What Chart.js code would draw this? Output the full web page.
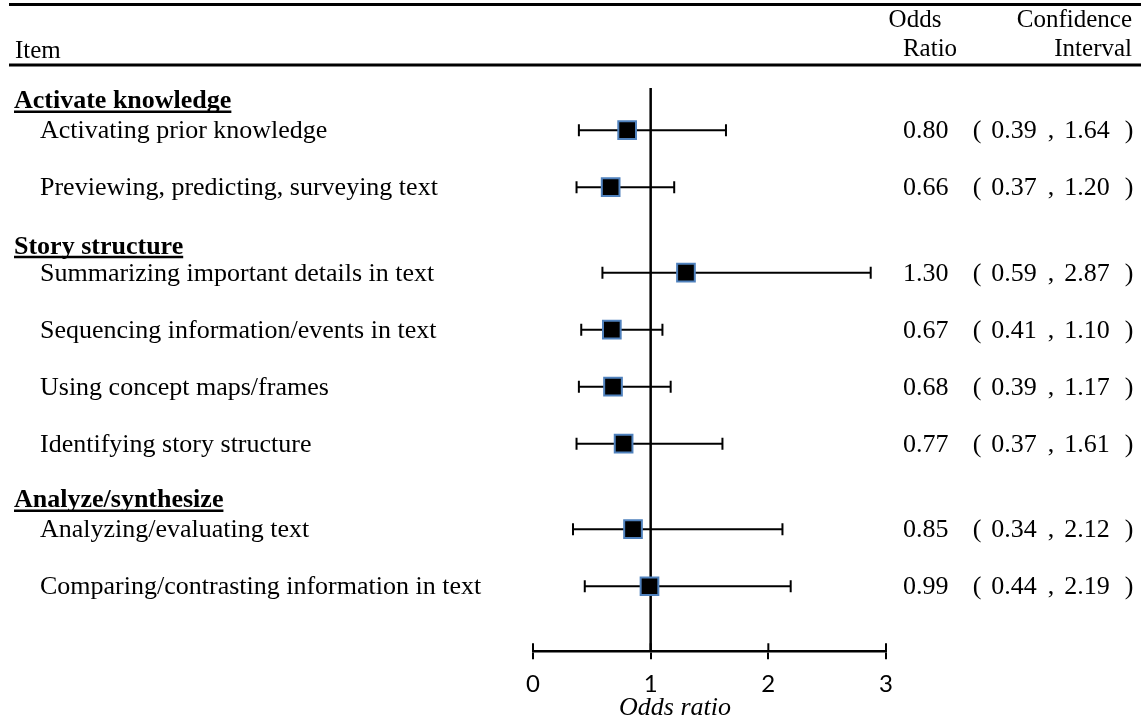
<!DOCTYPE html>
<html>
<head>
<meta charset="utf-8">
<script src="https://cdn.jsdelivr.net/npm/chart.js@4"></script>
<style>
  body { margin: 0; background: #fff; }
  #wrap { width: 1141px; height: 719px; position: relative; }
</style>
</head>
<body>
<div id="wrap"><canvas id="myChart"></canvas></div>
<script>
// data
const items = [
    'Activating prior knowledge',
    'Previewing, predicting, surveying text',
    'Summarizing important details in text',
    'Sequencing information/events in text',
    'Using concept maps/frames',
    'Identifying story structure',
    'Analyzing/evaluating text',
    'Comparing/contrasting information in text'
];
const oddsRatio = [0.80, 0.66, 1.30, 0.67, 0.68, 0.77, 0.85, 0.99];
const ciLow = [0.39, 0.37, 0.59, 0.41, 0.39, 0.37, 0.34, 0.44];
const ciHigh = [1.64, 1.20, 2.87, 1.10, 1.17, 1.61, 2.12, 2.19];
const rowPos = [0, 1, 2.5, 3.5, 4.5, 5.5, 7, 8];
const groups = ['Activate knowledge', 'Story structure', 'Analyze/synthesize'];
const groupPos = [-0.5, 2.05, 6.5];
const xTicks = [0, 1, 2, 3];

const Y_MIN = -0.74;
const Y_MAX = 9.14;
const SERIF = '"Liberation Serif", "Times New Roman", serif';

function fmt(v) {
    return v.toFixed(2);
}

// markers first so they are drawn on top
let datasets = [];
datasets.push({
    type: 'line',
    showLine: false,
    data: oddsRatio.map(function (v, i) { return { x: v, y: rowPos[i] }; }),
    pointStyle: 'rect',
    pointRadius: 12.5,
    pointBackgroundColor: '#000000',
    pointBorderColor: '#4F81BD',
    pointBorderWidth: 2
});
for (let i = 0; i < items.length; i += 1) {
    datasets.push({
        type: 'line',
        data: [{ x: ciLow[i], y: rowPos[i] }, { x: ciHigh[i], y: rowPos[i] }],
        borderColor: '#000000',
        borderWidth: 2,
        pointStyle: 'line',
        pointRotation: 90,
        pointRadius: 6,
        pointBorderColor: '#000000',
        pointBorderWidth: 2
    });
}
// line of no effect
datasets.push({
    type: 'line',
    data: [{ x: 1, y: Y_MIN }, { x: 1, y: Y_MAX }],
    borderColor: '#000000',
    borderWidth: 2.5,
    pointRadius: 0
});

const tablePlugin = {
    id: 'tableText',
    afterDraw: function (chart) {
        const ctx = chart.ctx;
        const xs = chart.scales.x;
        const ys = chart.scales.y;
        ctx.save();
        ctx.fillStyle = '#000';
        ctx.strokeStyle = '#000';

        // rules
        ctx.lineWidth = 3;
        ctx.beginPath();
        ctx.moveTo(9, 4.5); ctx.lineTo(1141, 4.5);
        ctx.moveTo(9, 65); ctx.lineTo(1141, 65);
        ctx.stroke();

        // column headers
        ctx.font = '25px ' + SERIF;
        ctx.textBaseline = 'alphabetic';
        ctx.textAlign = 'left';
        ctx.fillText('Item', 15, 58);
        ctx.textAlign = 'center';
        ctx.fillText('Odds', 915, 27);
        ctx.fillText('Ratio', 930, 56);
        ctx.textAlign = 'right';
        ctx.fillText('Confidence', 1132, 27);
        ctx.fillText('Interval', 1132, 56);

        // group headers
        ctx.font = 'bold 26px ' + SERIF;
        ctx.textAlign = 'left';
        ctx.textBaseline = 'middle';
        ctx.lineWidth = 2.5;
        for (let g = 0; g < groups.length; g += 1) {
            const y = ys.getPixelForValue(groupPos[g]);
            ctx.fillText(groups[g], 14, y);
            const w = ctx.measureText(groups[g]).width;
            ctx.beginPath();
            ctx.moveTo(14, y + 10);
            ctx.lineTo(14 + w, y + 10);
            ctx.stroke();
        }

        // items and estimates
        ctx.font = '26px ' + SERIF;
        for (let i = 0; i < items.length; i += 1) {
            const y = ys.getPixelForValue(rowPos[i]) + 1;
            ctx.textAlign = 'left';
            ctx.fillText(items[i], 40, y);
            ctx.fillText(fmt(oddsRatio[i]), 903, y);
            ctx.textAlign = 'center';
            ctx.fillText('(', 977, y);
            ctx.fillText(fmt(ciLow[i]), 1014, y);
            ctx.fillText(',', 1051, y);
            ctx.fillText(fmt(ciHigh[i]), 1087, y);
            ctx.fillText(')', 1129, y);
        }

        // upper half of the axis tick marks
        ctx.lineWidth = 2;
        ctx.beginPath();
        for (let t = 0; t < xTicks.length; t += 1) {
            const px = xs.getPixelForValue(xTicks[t]);
            ctx.moveTo(px, xs.top - 8);
            ctx.lineTo(px, xs.top);
        }
        ctx.stroke();

        // axis title
        ctx.font = 'italic 26px ' + SERIF;
        ctx.textAlign = 'center';
        ctx.textBaseline = 'middle';
        ctx.fillText('Odds ratio', 675, 708);
        ctx.restore();
    }
};

const ctx = document.getElementById('myChart').getContext('2d');
const myChart = new Chart(ctx, {
    type: 'line',
    data: { datasets: datasets },
    options: {
        responsive: true,
        maintainAspectRatio: false,
        animation: false,
        events: [],
        layout: {
            padding: { left: 533, right: 255, top: 88, bottom: 9 }
        },
        plugins: {
            legend: { display: false },
            tooltip: { enabled: false }
        },
        scales: {
            x: {
                type: 'linear',
                min: 0,
                max: 3,
                afterBuildTicks: function (scale) {
                    scale.ticks = xTicks.map(function (v) { return { value: v }; });
                },
                border: { display: true, color: '#000', width: 2.5 },
                grid: {
                    drawOnChartArea: false,
                    drawTicks: true,
                    tickLength: 8,
                    color: '#000',
                    lineWidth: 2
                },
                ticks: {
                    color: '#000',
                    padding: 11,
                    font: { family: 'Lato, "Liberation Sans", sans-serif', size: 24 }
                }
            },
            y: {
                type: 'linear',
                display: false,
                reverse: true,
                min: Y_MIN,
                max: Y_MAX
            }
        }
    },
    plugins: [tablePlugin]
});
</script>
</body>
</html>
